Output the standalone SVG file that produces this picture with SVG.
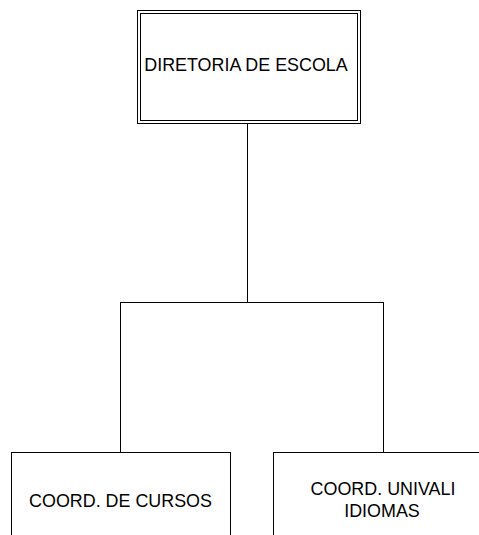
<svg xmlns="http://www.w3.org/2000/svg" width="479" height="535" viewBox="0 0 479 535">
<style>
.box{fill:#fff;stroke:#000;stroke-width:1}
.ln{fill:none;stroke:#000;stroke-width:1}
text{font-family:"Liberation Sans",Arial,sans-serif;font-size:17.9px;fill:#000;text-anchor:middle}
</style>
<rect width="479" height="535" fill="#fff"/>
<g id="connectors">
<path class="ln" d="M247.5,123 V302.5 M120.5,302.5 H383.5 M120.5,302 V452 M383.5,302 V452"/>
</g>
<g id="diretoria">
<rect class="box" x="137.5" y="10.5" width="223" height="113"/>
<rect class="box" x="140.5" y="13.5" width="217" height="107"/>
<text x="246" y="71">DIRETORIA DE ESCOLA</text>
</g>
<g id="coord-cursos">
<rect class="box" x="11.5" y="452.5" width="219" height="100"/>
<text x="120.5" y="507">COORD. DE CURSOS</text>
</g>
<g id="coord-univali">
<rect class="box" x="273.5" y="452.5" width="219" height="100"/>
<text x="383" y="495">COORD. UNIVALI</text>
<text x="382" y="517">IDIOMAS</text>
</g>
</svg>
